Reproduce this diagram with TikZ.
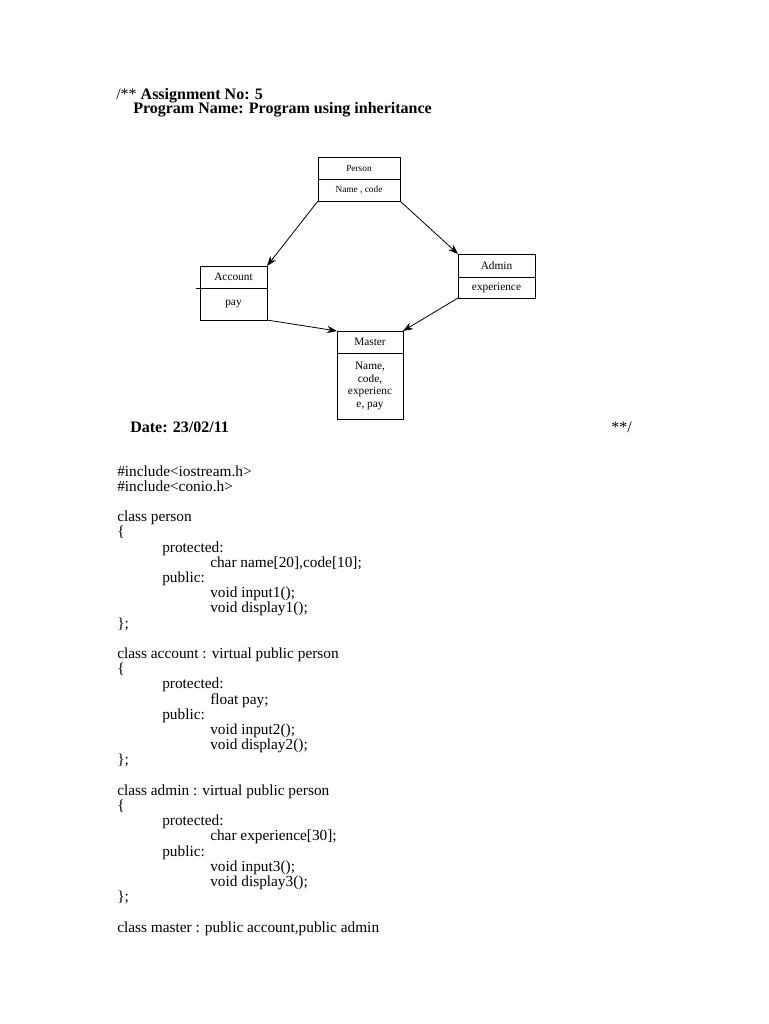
\documentclass[tikz,border=0pt]{standalone}
\usepackage{fontspec}
\setmainfont{Liberation Serif}
\usetikzlibrary{arrows.meta,positioning}

\begin{document}
\begin{tikzpicture}[x=0.75pt,y=-0.75pt,
  umlbox/.style={draw,line width=0.6pt,inner sep=1pt,outer sep=0pt,align=center,font=\fontsize{8.5}{9.5}\selectfont},
  codeline/.style={anchor=base west,inner sep=0pt,font=\fontsize{11.5}{13}\selectfont},
  titleline/.style={anchor=base west,inner sep=0pt,font=\fontsize{12}{14}\selectfont\bfseries},
  inherit/.style={-{Stealth[length=7.5pt,width=5.5pt]},line width=0.6pt}]
\fill[white] (0,0) rectangle (768,1024);
\useasboundingbox (0,0) rectangle (768,1024);
\node[codeline,font=\fontsize{12}{14}\selectfont] (assignno) at (116,99.5) {/** \textbf{Assignment No: 5}};
\node[titleline] (progname) at (133,113.5) {Program Name: Program using inheritance};
\node[umlbox,anchor=north west,minimum width=61.5pt,minimum height=16.5pt,font=\fontsize{7}{8}\selectfont] (personhead) at (318,157) {Person};
\node[umlbox,below=0pt of personhead,minimum width=61.5pt,minimum height=16.5pt,font=\fontsize{7}{8}\selectfont] (personbody) {Name , code};
\node[umlbox,anchor=north west,minimum width=50.25pt,minimum height=16.5pt] (accounthead) at (200,266) {Account};
\node[umlbox,below=0pt of accounthead,minimum width=50.25pt,minimum height=24pt] (accountbody) {pay};
\draw[line width=0.6pt] (accounthead.south west) -- ++(-4,0);
\node[umlbox,anchor=north west,minimum width=57.75pt,minimum height=17.25pt] (adminhead) at (458,254) {Admin};
\node[umlbox,below=0pt of adminhead,minimum width=57.75pt,minimum height=15.75pt] (adminbody) {experience};
\node[umlbox,anchor=north west,minimum width=49.5pt,minimum height=16.5pt] (masterhead) at (337,331) {Master};
\node[umlbox,below=0pt of masterhead,minimum width=49.5pt,minimum height=49.5pt] (masterbody) {Name,\\code,\\experienc\\e, pay};
\draw[inherit] (personbody.south west) -- (accounthead.north east);
\draw[inherit] (personbody.south east) -- (adminhead.north west);
\draw[inherit] (accountbody.south east) -- (masterhead.north west);
\draw[inherit] (adminbody.south west) -- (masterhead.north east);
\node[titleline] (date) at (130,432) {Date: 23/02/11};
\node[codeline,font=\fontsize{12}{14}\selectfont] (endcomment) at (611,432) {**/};
\node[codeline] (inc1) at (117,476) {\#include<iostream.h>};
\node[codeline] (inc2) at (117,491.2) {\#include<conio.h>};
\node[codeline] (person) at (117,521.6) {class person};
\node[codeline] (personopen) at (117,536.8) {\{};
\node[codeline] (personprot) at (162,552) {protected:};
\node[codeline] (personvars) at (210,567.2) {char name[20],code[10];};
\node[codeline] (personpub) at (162,582.4) {public:};
\node[codeline] (input1) at (210,597.6) {void input1();};
\node[codeline] (display1) at (210,612.8) {void display1();};
\node[codeline] (personclose) at (117,628) {\};};
\node[codeline] (account) at (117,658.4) {class account : virtual public person};
\node[codeline] (accountopen) at (117,673.6) {\{};
\node[codeline] (accountprot) at (162,688.8) {protected:};
\node[codeline] (accountvars) at (210,704) {float pay;};
\node[codeline] (accountpub) at (162,719.2) {public:};
\node[codeline] (input2) at (210,734.4) {void input2();};
\node[codeline] (display2) at (210,749.6) {void display2();};
\node[codeline] (accountclose) at (117,764.8) {\};};
\node[codeline] (admin) at (117,795.2) {class admin : virtual public person};
\node[codeline] (adminopen) at (117,810.4) {\{};
\node[codeline] (adminprot) at (162,825.6) {protected:};
\node[codeline] (adminvars) at (210,840.8) {char experience[30];};
\node[codeline] (adminpub) at (162,856) {public:};
\node[codeline] (input3) at (210,871.2) {void input3();};
\node[codeline] (display3) at (210,886.4) {void display3();};
\node[codeline] (adminclose) at (117,901.6) {\};};
\node[codeline] (master) at (117,932) {class master : public account,public admin};
\end{tikzpicture}
\end{document}
